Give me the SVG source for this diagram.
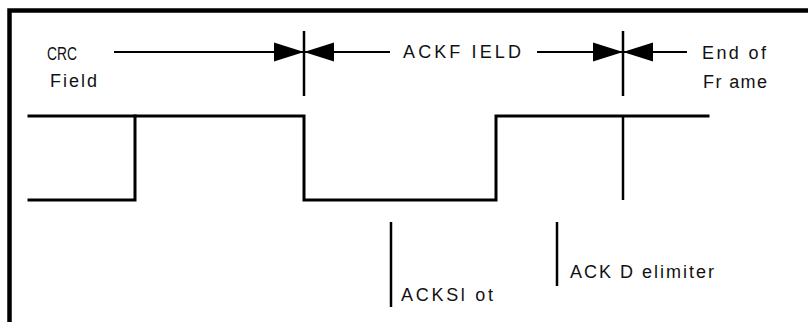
<svg xmlns="http://www.w3.org/2000/svg" width="808" height="322" viewBox="0 0 808 322">
<style>
.frame{stroke:#000;stroke-width:4.5;fill:none}
.wave{stroke:#000;stroke-width:3;fill:none;stroke-linejoin:miter;stroke-linecap:square}
.tick{stroke:#000;stroke-width:2.5}
.dim{stroke:#000;stroke-width:2;fill:none}
text{font-family:"Liberation Sans",Arial,sans-serif;font-size:18px;fill:#111}
</style>
<defs>
<marker id="ah" markerUnits="userSpaceOnUse" markerWidth="30" markerHeight="20" refX="30" refY="10" orient="auto">
<path d="M0,0.5 L30,10 L0,19.5 Z" fill="#000"/>
</marker>
</defs>
<g id="border">
<path class="frame" d="M9.5,322 V10.5 H808"/>
</g>
<g id="connectors">
<line class="dim" x1="114" y1="52" x2="304" y2="52" marker-end="url(#ah)"/>
<line class="dim" x1="390" y1="52" x2="304" y2="52" marker-end="url(#ah)"/>
<line class="dim" x1="537" y1="52" x2="623" y2="52" marker-end="url(#ah)"/>
<line class="dim" x1="687" y1="52" x2="623" y2="52" marker-end="url(#ah)"/>
<line class="tick" x1="304" y1="31" x2="304" y2="96"/>
<line class="tick" x1="623" y1="31" x2="623" y2="96"/>
</g>
<g id="crc-field">
<text x="47" y="60" textLength="30" lengthAdjust="spacingAndGlyphs">CRC</text>
<text x="50" y="87" textLength="47" lengthAdjust="spacing">Field</text>
</g>
<g id="ack-field">
<text x="403" y="58" textLength="118" lengthAdjust="spacing">ACKF IELD</text>
</g>
<g id="end-of-frame">
<text x="702" y="59" textLength="64" lengthAdjust="spacing">End of</text>
<text x="703" y="88" textLength="64" lengthAdjust="spacing">Fr ame</text>
</g>
<g id="signal">
<path class="wave" d="M29,116 H304 V200 H496 V116 H708"/>
<path class="wave" d="M29,200 H135 V116"/>
<line class="tick" x1="623" y1="116" x2="623" y2="200"/>
</g>
<g id="ack-slot">
<line class="tick" x1="391" y1="222" x2="391" y2="307"/>
<text x="401" y="301" textLength="92" lengthAdjust="spacing">ACKSl ot</text>
</g>
<g id="ack-delimiter">
<line class="tick" x1="557" y1="222" x2="557" y2="286"/>
<text x="570" y="278" textLength="144" lengthAdjust="spacing">ACK D elimiter</text>
</g>
</svg>
